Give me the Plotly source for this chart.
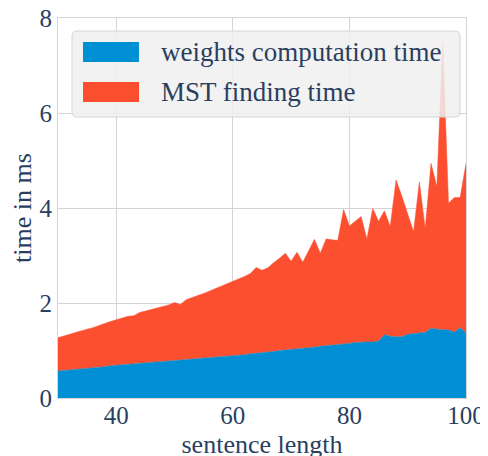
import plotly.graph_objects as go

sentence_length = list(range(30, 101))

weights_time = [
    0.57, 0.58, 0.59, 0.60, 0.62, 0.63, 0.64, 0.65, 0.66, 0.68,
    0.69, 0.70, 0.71, 0.72, 0.73, 0.74, 0.75, 0.76, 0.77, 0.78,
    0.79, 0.79, 0.81, 0.82, 0.83, 0.84, 0.85, 0.86, 0.87, 0.88,
    0.89, 0.90, 0.91, 0.93, 0.94, 0.95, 0.97, 0.98, 1.00, 1.01,
    1.03, 1.04, 1.05, 1.06, 1.07, 1.09, 1.10, 1.12, 1.13, 1.14,
    1.15, 1.17, 1.18, 1.18, 1.18, 1.20, 1.33, 1.30, 1.29, 1.29,
    1.34, 1.36, 1.37, 1.38, 1.47, 1.45, 1.44, 1.43, 1.39, 1.48,
    1.37,
]

# top of the stack (weights + MST)
total_time = [
    1.27, 1.30, 1.34, 1.38, 1.42, 1.45, 1.48, 1.53, 1.57, 1.61,
    1.65, 1.68, 1.72, 1.73, 1.80, 1.83, 1.86, 1.89, 1.92, 1.96,
    2.01, 1.97, 2.07, 2.12, 2.16, 2.20, 2.25, 2.30, 2.35, 2.40,
    2.45, 2.50, 2.56, 2.62, 2.75, 2.69, 2.74, 2.85, 2.94, 3.05,
    2.88, 3.07, 2.86, 3.10, 3.34, 3.05, 3.35, 3.33, 3.32, 3.97,
    3.62, 3.72, 3.82, 3.35, 3.99, 3.72, 3.94, 3.61, 4.59, 4.25,
    3.88, 3.50, 4.55, 3.57, 4.94, 4.45, 7.50, 4.10, 4.22, 4.22,
    4.94,
]

series_names = ["weights computation time", "MST finding time"]
x_ticks = [40, 60, 80, 100]
y_ticks = [0, 2, 4, 6, 8]

BLUE = "#008fd5"
RED = "#fc4f30"
FONT = "Liberation Serif"

fig = go.Figure()
fig.add_trace(go.Scatter(
    x=sentence_length, y=weights_time, name=series_names[0],
    mode="lines", line=dict(color=BLUE, width=0.5), fill="tozeroy",
    fillcolor=BLUE, showlegend=False,
))
fig.add_trace(go.Scatter(
    x=sentence_length, y=total_time, name=series_names[1],
    mode="lines", line=dict(color=RED, width=0.5), fill="tonexty",
    fillcolor=RED, showlegend=False,
))

axis_common = dict(
    showgrid=True, gridcolor="#d4d4d4", gridwidth=1,
    showline=True, linecolor="#d4d4d4", linewidth=1, mirror=True,
    zeroline=False, ticks="", automargin=False, ticklabeloverflow="allow",
    tickfont=dict(family=FONT, size=25),
)

# page offsets the figure by 8px; plot area in the window: x 58..466, y 18..398
ML, MT = 50, 10
PW, PH = 408.0, 380.0

def px2paper(px, py):
    return (px - 58) / PW, (398 - py) / PH

x0, y0 = px2paper(72, 31)
x1, y1 = px2paper(460, 117)
rx, ry = 5 / PW, 5 / PH
path = (
    f"M {x0+rx},{y0} L {x1-rx},{y0} Q {x1},{y0} {x1},{y0-ry} "
    f"L {x1},{y1+ry} Q {x1},{y1} {x1-rx},{y1} "
    f"L {x0+rx},{y1} Q {x0},{y1} {x0},{y1+ry} "
    f"L {x0},{y0-ry} Q {x0},{y0} {x0+rx},{y0} Z"
)
shapes = [dict(type="path", xref="paper", yref="paper", path=path,
               fillcolor="rgba(240,240,240,0.85)",
               line=dict(color="#d4d4d4", width=1), layer="above")]
annotations = []
for i, (name, col) in enumerate(zip(series_names, [BLUE, RED])):
    top = 42 + i * 40
    pa, pb = px2paper(83, top)
    pc, pd = px2paper(139, top + 20)
    shapes.append(dict(type="rect", xref="paper", yref="paper",
                       x0=pa, x1=pc, y0=pd, y1=pb, fillcolor=col,
                       line=dict(width=0), layer="above"))
    tx, ty = px2paper(159, top + 10)
    annotations.append(dict(text=name, xref="paper", yref="paper", x=tx, y=ty,
                            xanchor="left", yanchor="middle", showarrow=False,
                            font=dict(family=FONT, size=27)))

fig.update_layout(
    width=488, height=456,
    margin=dict(l=ML, r=488 - ML - PW, t=MT, b=456 - MT - PH),
    paper_bgcolor="white", plot_bgcolor="white",
    shapes=shapes, annotations=annotations,
    xaxis=dict(
        range=[30, 100], tickvals=x_ticks, ticklabelstandoff=-5,
        title=dict(text="sentence length", font=dict(family=FONT, size=26), standoff=6),
        **axis_common,
    ),
    yaxis=dict(
        range=[0, 8], tickvals=y_ticks,
        title=dict(text="time in ms", font=dict(family=FONT, size=26), standoff=8),
        **axis_common,
    ),
)

fig.write_html("out.html")
